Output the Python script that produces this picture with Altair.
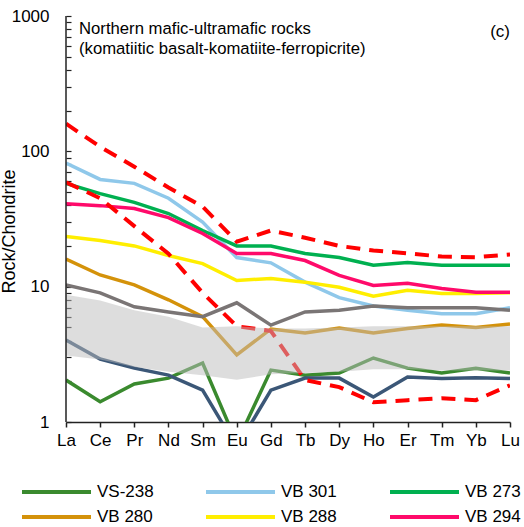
import altair as alt
import pandas as pd

# Chondrite-normalised REE patterns
elements = ["La", "Ce", "Pr", "Nd", "Sm", "Eu", "Gd", "Tb", "Dy", "Ho", "Er", "Tm", "Yb", "Lu"]

# Named samples
vs_238 = [2.04, 1.41, 1.91, 2.11, 2.73, 0.70, 2.42, 2.22, 2.30, 2.97, 2.50, 2.30, 2.50, 2.30]
vb_301 = [82, 62, 58, 45, 30, 16.4, 15.0, 10.8, 8.3, 7.2, 6.7, 6.3, 6.3, 7.0]
vb_273 = [58, 48.7, 42, 34.7, 26, 20.0, 20.0, 17.6, 16.4, 14.4, 15.1, 14.4, 14.4, 14.4]
vb_280 = [16.0, 12.2, 10.3, 8.0, 6.0, 3.13, 4.87, 4.55, 4.95, 4.55, 4.90, 5.20, 5.00, 5.30]
vb_288 = [23.5, 21.9, 20.0, 17.0, 14.8, 11.1, 11.5, 10.8, 9.9, 8.5, 9.4, 8.9, 8.9, 9.0]
vb_294 = [41, 39.7, 37.8, 32.4, 24.7, 17.6, 17.6, 15.6, 12.1, 10.2, 10.6, 9.7, 9.1, 9.1]

# Unlabelled samples
grey_sample = [10.3, 9.0, 7.1, 6.5, 6.0, 7.6, 5.2, 6.5, 6.7, 7.2, 7.0, 7.0, 7.0, 6.7]
navy_sample = [4.04, 2.92, 2.50, 2.22, 1.72, 0.65, 1.72, 2.11, 2.11, 1.53, 2.15, 2.10, 2.12, 2.10]

# Reference envelope (dashed)
envelope_upper = [160, 108, 77, 54, 39, 21.5, 26, 23, 20, 18.5, 17.6, 16.7, 16.5, 17.3]
envelope_lower = [59, 45, 28, 17.5, 9.0, 5.1, 4.7, 2.04, 1.81, 1.40, 1.45, 1.50, 1.45, 1.87]

# Shaded field
field_upper = [8.7, 7.9, 6.7, 6.0, 5.0, 5.1, 4.9, 4.9, 5.0, 5.1, 5.1, 5.1, 5.1, 5.1]
field_lower = [3.1, 2.9, 2.55, 2.35, 2.22, 2.05, 2.25, 2.3, 2.35, 2.45, 2.45, 2.4, 2.4, 2.4]

series_names = ["VS-238", "VB 301", "VB 273", "VB 280", "VB 288", "VB 294"]
series_values = [vs_238, vb_301, vb_273, vb_280, vb_288, vb_294]
series_colors = ["#3a8a2e", "#8fc8ea", "#00b050", "#d4920a", "#ffee00", "#ff0a6a"]

FONT = "Liberation Sans"
W, H = 444, 406

samples = pd.DataFrame(
    [{"element": e, "sample": n, "value": v}
     for n, vals in zip(series_names, series_values)
     for e, v in zip(elements, vals)]
)
others = pd.DataFrame(
    [{"element": e, "sample": n, "value": v, "colour": c}
     for n, c, vals in [("grey", "#7a7575", grey_sample), ("navy", "#3b5777", navy_sample)]
     for e, v in zip(elements, vals)]
)
envelope = pd.DataFrame(
    [{"element": e, "bound": n, "value": v}
     for n, vals in [("upper", envelope_upper), ("lower", envelope_lower)]
     for e, v in zip(elements, vals)]
)
field = pd.DataFrame({"element": elements, "hi": field_upper, "lo": field_lower})

log_ticks = [m * 10 ** k for k in range(3) for m in range(1, 10)] + [1000]

x_enc = alt.X(
    "element:N", sort=elements, title=None,
    scale=alt.Scale(type="point", padding=0),
    axis=alt.Axis(labelAngle=0, labelFont=FONT, labelFontSize=17, labelColor="black",
                  labelPadding=5, tickSize=5, tickWidth=1.5, tickColor="#222",
                  domainColor="#222", domainWidth=1.5, grid=False),
)
y_scale = alt.Scale(type="log", domain=[1, 1000], nice=False)
y_enc = alt.Y(
    "value:Q", scale=y_scale, title="Rock/Chondrite",
    axis=alt.Axis(values=log_ticks,
                  labelExpr="indexof([1, 10, 100, 1000], datum.value) >= 0 ? format(datum.value, 'd') : ''",
                  labelFont=FONT, labelFontSize=17, labelColor="black", labelPadding=17,
                  tickSize=5, tickWidth=1.2, tickColor="#222", offset=-5, domain=False,
                  grid=False, titleFont=FONT, titleFontSize=18, titleFontWeight="normal",
                  titleColor="black", titleAngle=-90, titleBaseline="alphabetic",
                  titleX=-57, titleY=215),
)

sample_lines = alt.Chart(samples).mark_line(strokeWidth=3.5, clip=True).encode(
    x=x_enc, y=y_enc,
    color=alt.Color(
        "sample:N", sort=series_names,
        scale=alt.Scale(domain=series_names, range=series_colors),
        legend=alt.Legend(
            title=None, orient="none", legendX=-56, legendY=464, direction="horizontal",
            columns=3, gridAlign="all", columnPadding=40, rowPadding=5,
            symbolType="M0,0H6.9", symbolSize=400, symbolStrokeWidth=4,
            labelFont=FONT, labelFontSize=17, labelColor="black", labelOffset=63,
        ),
    ),
)

other_lines = alt.Chart(others).mark_line(strokeWidth=3.5, clip=True).encode(
    x=alt.X("element:N", sort=elements),
    y=alt.Y("value:Q", scale=y_scale),
    detail="sample:N",
    color=alt.Color("colour:N", scale=None, legend=None),
)

envelope_lines = alt.Chart(envelope).mark_line(
    color="#ff0000", strokeWidth=4, strokeDash=[14, 9], clip=True
).encode(
    x=alt.X("element:N", sort=elements),
    y=alt.Y("value:Q", scale=y_scale),
    detail="bound:N",
)

field_area = alt.Chart(field).mark_area(color="#bcbcbc", opacity=0.5).encode(
    x=alt.X("element:N", sort=elements),
    y=alt.Y("hi:Q", scale=y_scale),
    y2="lo:Q",
)

one_row = pd.DataFrame({"k": [0]})
y_domain_line = alt.Chart(one_row).mark_rule(color="#222", strokeWidth=1.5).encode(
    x=alt.value(0), y=alt.value(0), y2=alt.value(H)
)
heading = alt.Chart(one_row).mark_text(
    align="left", baseline="alphabetic", font=FONT, fontSize=16.7, lineHeight=20, color="black"
).encode(
    x=alt.value(13), y=alt.value(18),
    text=alt.value(["Northern mafic-ultramafic rocks", "(komatiitic basalt-komatiite-ferropicrite)"]),
)
panel_tag = alt.Chart(one_row).mark_text(
    align="right", baseline="alphabetic", font=FONT, fontSize=17, color="black"
).encode(x=alt.value(W), y=alt.value(21), text=alt.value("(c)"))

chart = alt.layer(
    sample_lines, other_lines, envelope_lines, field_area, y_domain_line, heading, panel_tag
).resolve_scale(color="independent").properties(
    width=W, height=H,
    autosize=alt.AutoSizeParams(type="none"),
    padding={"left": 66, "top": 16, "right": 14, "bottom": 105},
).configure_view(stroke=None)

chart.save("out.html", embed_options={"renderer": "svg", "actions": False})
